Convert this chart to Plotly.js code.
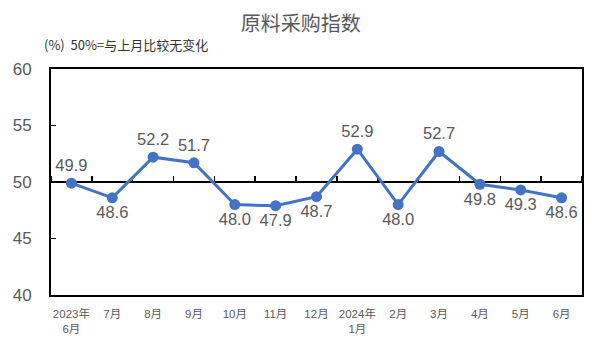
<!DOCTYPE html>
<html><head><meta charset="utf-8">
<script src="https://cdn.plot.ly/plotly-3.0.1.min.js"></script>
<style>html,body{margin:0;padding:0;background:#fff}#c{width:614px;height:339px}</style>
</head><body><div id="c"></div>
<script>
const categories = ["2023年<br>6月","7月","8月","9月","10月","11月","12月","2024年<br>1月","2月","3月","4月","5月","6月"];
const values = [49.9, 48.6, 52.2, 51.7, 48.0, 47.9, 48.7, 52.9, 48.0, 52.7, 49.8, 49.3, 48.6];
const labelPos = ["top center","bottom center","top center","top center","bottom center","bottom center","bottom center","top center","bottom center","top center","bottom center","bottom center","bottom center"];
const yTicks = [40, 45, 50, 55, 60];
const refLevel = 50;

const font = '"Liberation Sans", "Noto Sans CJK SC", sans-serif';
const gray = '#595959';

const traces = [
  {
    x: categories, y: values, xaxis: 'x2', yaxis: 'y', type: 'scatter', mode: 'lines',
    line: {width: 0, color: 'rgba(0,0,0,0)'}, hoverinfo: 'skip', showlegend: false
  },
  {
    x: categories, y: values, type: 'scatter', mode: 'lines+markers+text',
    line: {color: '#4472C4', width: 3},
    marker: {color: '#4472C4', size: 11},
    text: values.map(v => v.toFixed(1)),
    textposition: labelPos,
    textfont: {size: 16.5, color: gray, family: font},
    cliponaxis: false, hoverinfo: 'skip', showlegend: false
  }
];

const yMin = yTicks[0], yMax = yTicks[yTicks.length - 1];
const layout = {
  width: 614, height: 339,
  margin: {l: 51, r: 32, t: 69, b: 44},
  paper_bgcolor: '#fff', plot_bgcolor: '#fff',
  font: {family: font, color: gray},
  title: {text: '原料采购指数', x: 0.49, xref: 'container', xanchor: 'center', y: 0.93, yanchor: 'middle', font: {size: 20, color: gray, family: '"Noto Sans CJK SC", sans-serif'}},
  xaxis: {
    type: 'category', categoryarray: categories, range: [-0.5, categories.length - 0.5],
    showline: true, linecolor: '#000', linewidth: 2, mirror: true,
    ticks: '', showgrid: false, zeroline: false, ticklabelstandoff: 7,
    tickfont: {size: 11.5, color: gray, family: font}, tickangle: 0
  },
  xaxis2: {
    type: 'category', categoryarray: categories, range: [-0.5, categories.length - 0.5],
    overlaying: 'x', anchor: 'free', side: 'top', layer: 'below traces',
    position: (refLevel - yMin) / (yMax - yMin),
    showline: true, linecolor: '#000', linewidth: 2,
    ticks: 'outside', tickson: 'boundaries', ticklen: 5, tickwidth: 1.5, tickcolor: '#000',
    showticklabels: false, showgrid: false, zeroline: false
  },
  yaxis: {
    range: [yMin, yMax], tickvals: yTicks, ticktext: yTicks.map(String),
    showline: true, linecolor: '#000', linewidth: 2, mirror: true,
    ticks: 'inside', ticklen: 5, tickwidth: 1.5, tickcolor: '#000',
    showgrid: false, zeroline: false,
    tickfont: {size: 17, color: gray, family: font}, ticklabelstandoff: 14
  },
  annotations: [{
    text: '(%)  50%=与上月比较无变化', xref: 'paper', yref: 'paper',
    x: -0.017, y: 1.11, xanchor: 'left', yanchor: 'middle', showarrow: false,
    font: {size: 13, color: '#333', family: '"Noto Sans CJK SC", sans-serif'}
  }]
};

Plotly.newPlot('c', traces, layout, {staticPlot: true});
</script>
</body></html>
